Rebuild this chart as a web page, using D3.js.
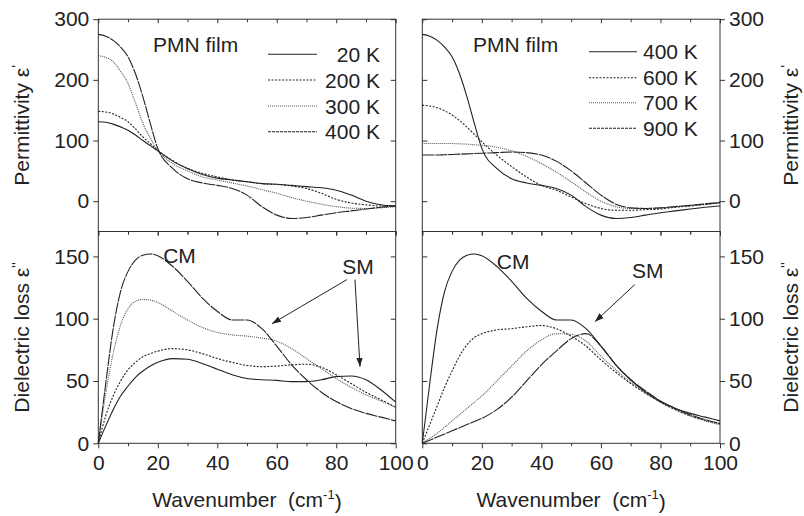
<!DOCTYPE html>
<html>
<head>
<meta charset="utf-8">
<script src="https://cdn.jsdelivr.net/npm/d3@7"></script>
<style>
  body { margin: 0; background: #fff; }
  text { font-family: "Liberation Sans", Arial, sans-serif; fill: #222; }
</style>
</head>
<body>
<div id="chart"></div>
<script>
const WIDTH = 804, HEIGHT = 516,
    FONT = 21,
    COL_X = { LEFT: [98.3, 395.7], RIGHT: [422.3, 720] },
    ROW_Y = { TOP: [231.5, 19.2], BOTTOM: [443.3, 231.5] };

// wavenumber grid (cm-1) shared by every curve
const waveNumbers = [0, 2.5, 5, 7.5, 10, 12.5, 15, 17.5, 20, 25, 30, 35, 40, 45, 50, 55, 60, 65, 70, 75, 80, 85, 90, 95, 100];

const xTicks = [0, 20, 40, 60, 80, 100];
const xMinor = [10, 30, 50, 70, 90];
const epsTicks = [0, 100, 200, 300];
const lossTicks = [0, 50, 100, 150];

// permittivity eps'
const eps20K  = [131, 130, 127, 122.5, 117, 109, 100, 91.5, 83, 66, 54, 44, 38, 35, 32, 29, 28, 26, 24, 22, 18, 10, 0, -6, -8];
const eps200K = [148, 147, 144, 138, 131, 119, 106, 95, 84, 67, 54, 46, 40, 35, 32, 29, 27.5, 25, 21, 13, 3, -3, -6, -8, -8];
const eps300K = [240, 237, 230, 214, 194, 162, 128, 104, 84, 62, 50, 40, 35, 30, 25, 19, 13, 6, 0, -5, -9, -11.5, -12, -11, -9];
const eps400K = [275, 272, 265, 254, 238, 210, 172, 128, 87, 54, 37, 30, 26, 21, 10, -9, -23, -28.5, -27, -23, -19, -16, -13, -10, -8];
const eps600K = [158, 157, 154, 149, 142, 133, 122, 110, 98, 76, 57, 40, 26, 18, 7, -4, -12, -15, -15, -14, -13, -10, -8, -5.5, -3];
const eps700K = [95, 95, 95, 95, 95, 94.5, 94, 93, 92, 89, 83, 74, 62, 48, 32, 15, 0, -9, -12, -12, -11, -9, -7, -5, -3];
const eps900K = [76, 76, 76, 76.5, 77, 77.5, 78, 78.5, 79, 80, 81, 80, 76, 66, 50, 30, 10, -5, -11, -12, -11, -9, -7, -4.5, -2];

// dielectric loss eps''
const loss20K  = [0, 14, 27, 38, 46, 53, 58, 62, 65, 68, 67.5, 64, 59.5, 55, 52, 51, 50.5, 49.5, 49.5, 51, 53.5, 54, 51, 43, 33];
const loss200K = [0, 22, 38, 50, 59, 65, 69.5, 72, 74, 76, 75, 72, 68, 65, 62.5, 61.5, 62, 63, 63.5, 61, 55, 48, 41, 35, 29];
const loss300K = [0, 40, 72, 95, 108, 114, 115.5, 115, 113, 106, 99, 93, 89, 87, 86, 84.5, 82, 76, 68, 60, 52, 45, 39, 34, 29];
const loss400K = [0, 48, 92, 122, 138, 147, 151, 152, 150.5, 142, 130, 116.5, 106, 99, 99, 92, 78, 63, 51, 41, 33.5, 28, 24, 21, 18];
const loss600K = [0, 15, 30, 45, 58, 70, 79, 85, 88, 91, 92, 93.5, 94.5, 92, 86, 78, 67, 57, 48, 40, 33, 27, 22, 18.5, 15.5];
const loss700K = [0, 4, 8, 13, 18, 23, 28, 33, 38, 50, 62, 74, 83, 88, 87.5, 82, 70, 59, 49, 41, 33, 27, 22, 18, 15];
const loss900K = [0, 2.5, 5, 7.5, 10, 12.5, 15, 17.5, 20, 27, 37, 50, 63, 74, 84, 88, 78, 63, 51, 42, 34, 28, 23, 19, 16];

const leftLabels = ["20 K", "200 K", "300 K", "400 K"];
const rightLabels = ["400 K", "600 K", "700 K", "900 K"];
const leftDash = [null, "2,1.5", "1,1", "12,1"];
const rightDash = [null, "2,1.5", "1,1", "12,1"];

// annotation anchors in data units [wavenumber, eps'']
const cmLeft = [21.8, 150.6], smLeft = [82, 141.7];
const cmRight = [25, 145.7], smRight = [70.4, 138.5];
const smArrowsLeft = [[[83.6, 131.4], [58.4, 96]], [[86.3, 131.4], [88, 61.4]]];
const smArrowsRight = [[[71.4, 127.4], [58, 97.6]]];

const svg = d3.select("#chart").append("svg")
    .attr("width", WIDTH)
    .attr("height", HEIGHT);

svg.append("defs").append("marker")
    .attr("id", "arrow")
    .attr("viewBox", "0 0 10 10")
    .attr("refX", 10).attr("refY", 5)
    .attr("markerWidth", 9).attr("markerHeight", 9)
    .attr("markerUnits", "userSpaceOnUse")
    .attr("orient", "auto")
    .append("path")
    .attr("d", "M0,1.5 L10,5 L0,8.5 Z")
    .attr("fill", "#222");

function styleAxis(g) {
    g.select(".domain").remove();
    g.selectAll("line").attr("stroke", "#333");
    g.selectAll("text").attr("font-size", FONT).attr("fill", "#222")
        .attr("font-family", "Liberation Sans, Arial, sans-serif");
}

function drawPanel(cfg) {
    const x = d3.scaleLinear().domain([0, 100]).range(cfg.xRange);
    const y = d3.scaleLinear().domain(cfg.yDomain).range(cfg.yRange);
    const g = svg.append("g");
    const [x0, x1] = cfg.xRange, [yb, yt] = cfg.yRange;

    // bottom ticks
    g.append("g").attr("transform", `translate(0,${yb})`)
        .call(d3.axisBottom(x).tickValues(xTicks).tickSize(cfg.showX ? 5 : 4)
            .tickPadding(7).tickFormat(cfg.showX ? d3.format("d") : ""))
        .call(styleAxis);
    g.append("g").attr("transform", `translate(0,${yb})`)
        .call(d3.axisBottom(x).tickValues(xMinor).tickSize(3).tickFormat(""))
        .call(styleAxis);
    // top ticks (inward)
    g.append("g").attr("transform", `translate(0,${yt})`)
        .call(d3.axisTop(x).tickValues(xTicks).tickSize(-4).tickFormat(""))
        .call(styleAxis);
    g.append("g").attr("transform", `translate(0,${yt})`)
        .call(d3.axisTop(x).tickValues(xMinor).tickSize(-3).tickFormat(""))
        .call(styleAxis);

    // y axes: labelled outer side, inward ticks on the inner side
    if (cfg.side === "left") {
        g.append("g").attr("transform", `translate(${x0},0)`)
            .call(d3.axisLeft(y).tickValues(cfg.yTicks).tickSize(5).tickPadding(4))
            .call(styleAxis);
        g.append("g").attr("transform", `translate(${x1},0)`)
            .call(d3.axisRight(y).tickValues(cfg.yTicks).tickSize(-5).tickFormat(""))
            .call(styleAxis);
    } else {
        g.append("g").attr("transform", `translate(${x1},0)`)
            .call(d3.axisRight(y).tickValues(cfg.yTicks).tickSize(5).tickPadding(4))
            .call(styleAxis);
        g.append("g").attr("transform", `translate(${x0},0)`)
            .call(d3.axisLeft(y).tickValues(cfg.yTicks).tickSize(-5).tickFormat(""))
            .call(styleAxis);
    }

    // frame
    g.append("rect")
        .attr("x", x0).attr("y", yt)
        .attr("width", x1 - x0).attr("height", yb - yt)
        .attr("fill", "none").attr("stroke", "#333").attr("stroke-width", 1);

    const line = d3.line()
        .x((d, i) => x(waveNumbers[i]))
        .y(d => y(d))
        .curve(d3.curveMonotoneX);

    g.selectAll(".curve")
        .data(cfg.series)
        .join("path")
        .attr("class", "curve")
        .attr("d", d => line(d.values))
        .attr("fill", "none")
        .attr("stroke", d => d.dash === "1,1" ? "#555" : "#222")
        .attr("stroke-width", 1.1)
        .attr("stroke-dasharray", d => d.dash);

    return { g, x, y };
}

function addYTitle(xPos, yRange, label, primes) {
    const t = svg.append("text")
        .attr("transform", `translate(${xPos},${(yRange[0] + yRange[1]) / 2}) rotate(-90)`)
        .attr("text-anchor", "middle")
        .attr("font-size", FONT);
    t.append("tspan").text(label + " \u03b5");
    t.append("tspan").attr("font-size", 15).attr("dy", "-0.5em").text(primes);
}

function addXTitle(xRange) {
    const t = svg.append("text")
        .attr("x", (xRange[0] + xRange[1]) / 2)
        .attr("y", 507)
        .attr("text-anchor", "middle")
        .attr("font-size", FONT);
    t.append("tspan").text("Wavenumber\u00a0\u00a0(cm");
    t.append("tspan").attr("font-size", 13).attr("dy", "-0.6em").text("-1");
    t.append("tspan").attr("dy", "0.45em").text(")");
}

function addLegend(g, labels, dashes, lineX, textX, anchor, rowY) {
    labels.forEach((lab, i) => {
        g.append("line")
            .attr("x1", lineX[0]).attr("x2", lineX[1])
            .attr("y1", rowY[i]).attr("y2", rowY[i])
            .attr("stroke", dashes[i] === "1,1" ? "#555" : "#222")
            .attr("stroke-width", 1.1)
            .attr("stroke-dasharray", dashes[i] === "12,1" ? "3,1" : dashes[i]);
        g.append("text")
            .attr("x", textX).attr("y", rowY[i])
            .attr("dy", "0.36em")
            .attr("text-anchor", anchor)
            .attr("font-size", FONT)
            .text(lab);
    });
}

function addNote(p, pos, label) {
    p.g.append("text")
        .attr("x", p.x(pos[0])).attr("y", p.y(pos[1]))
        .attr("dy", "0.36em")
        .attr("font-size", FONT)
        .text(label);
}

function addArrows(p, arrows) {
    arrows.forEach(([from, to]) => {
        p.g.append("line")
            .attr("x1", p.x(from[0])).attr("y1", p.y(from[1]))
            .attr("x2", p.x(to[0])).attr("y2", p.y(to[1]))
            .attr("stroke", "#222").attr("stroke-width", 1)
            .attr("marker-end", "url(#arrow)");
    });
}

// Top left: permittivity, 20-400 K
const tl = drawPanel({
    xRange: COL_X.LEFT, yRange: ROW_Y.TOP, yDomain: [-50, 300], yTicks: epsTicks,
    side: "left", showX: false,
    series: [eps20K, eps200K, eps300K, eps400K].map((v, i) => ({ values: v, dash: leftDash[i] }))
});
// Top right: permittivity, 400-900 K
const tr = drawPanel({
    xRange: COL_X.RIGHT, yRange: ROW_Y.TOP, yDomain: [-50, 300], yTicks: epsTicks,
    side: "right", showX: false,
    series: [eps400K, eps600K, eps700K, eps900K].map((v, i) => ({ values: v, dash: rightDash[i] }))
});
// Bottom left: loss
const bl = drawPanel({
    xRange: COL_X.LEFT, yRange: ROW_Y.BOTTOM, yDomain: [0, 170], yTicks: lossTicks,
    side: "left", showX: true,
    series: [loss20K, loss200K, loss300K, loss400K].map((v, i) => ({ values: v, dash: leftDash[i] }))
});
// Bottom right: loss
const br = drawPanel({
    xRange: COL_X.RIGHT, yRange: ROW_Y.BOTTOM, yDomain: [0, 170], yTicks: lossTicks,
    side: "right", showX: true,
    series: [loss400K, loss600K, loss700K, loss900K].map((v, i) => ({ values: v, dash: rightDash[i] }))
});

// Titles
addYTitle(29, ROW_Y.TOP, "Permittivity", "'");
addYTitle(29, ROW_Y.BOTTOM, "Dielectric loss", "''");
addYTitle(798, ROW_Y.TOP, "Permittivity", "'");
addYTitle(798, ROW_Y.BOTTOM, "Dielectric loss", "''");
addXTitle(COL_X.LEFT);
addXTitle(COL_X.RIGHT);

// Legends and labels
tl.g.append("text").attr("x", 153).attr("y", 44).attr("dy", "0.36em")
    .attr("font-size", FONT).text("PMN film");
tr.g.append("text").attr("x", 473).attr("y", 44).attr("dy", "0.36em")
    .attr("font-size", FONT).text("PMN film");
addLegend(tl.g, leftLabels, leftDash, [268, 317], 380, "end", [54.3, 80, 106, 131.7]);
addLegend(tr.g, rightLabels, rightDash, [589, 637], 643, "start", [51.7, 77.7, 102.7, 128.3]);

addNote(bl, cmLeft, "CM");
addNote(bl, smLeft, "SM");
addNote(br, cmRight, "CM");
addNote(br, smRight, "SM");
addArrows(bl, smArrowsLeft);
addArrows(br, smArrowsRight);
</script>
</body>
</html>
